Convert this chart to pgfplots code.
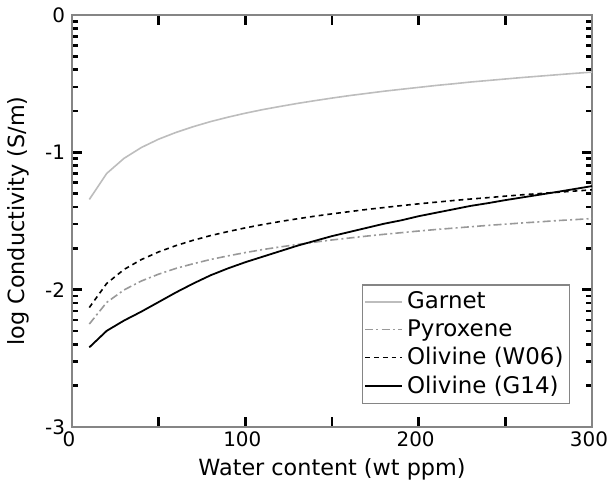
\documentclass[border=0pt]{standalone}
\usepackage{fontspec}
\setmainfont{DejaVu Sans}
\usepackage{pgfplots}
\pgfplotsset{compat=1.18}
\usepackage{pgfplotstable}

% x = water content (wt ppm), y = log10 conductivity (S/m)
\pgfplotstableread{
x    garnet  pyrox   w06     g14
10   -1.343  -2.250  -2.130  -2.420
20   -1.154  -2.093  -1.955  -2.300
30   -1.044  -2.002  -1.853  -2.225
40   -0.965  -1.937  -1.781  -2.160
50   -0.904  -1.887  -1.725  -2.090
60   -0.855  -1.845  -1.679  -2.020
70   -0.813  -1.811  -1.640  -1.955
80   -0.776  -1.780  -1.606  -1.895
90   -0.744  -1.754  -1.577  -1.845
100  -0.715  -1.730  -1.550  -1.800
110  -0.689  -1.708  -1.526  -1.760
120  -0.666  -1.689  -1.504  -1.720
130  -0.644  -1.671  -1.484  -1.680
140  -0.624  -1.654  -1.465  -1.645
150  -0.605  -1.638  -1.448  -1.610
160  -0.587  -1.624  -1.432  -1.580
170  -0.571  -1.610  -1.416  -1.550
180  -0.555  -1.597  -1.402  -1.520
190  -0.541  -1.585  -1.388  -1.495
200  -0.527  -1.573  -1.375  -1.465
210  -0.513  -1.562  -1.363  -1.440
220  -0.501  -1.552  -1.351  -1.415
230  -0.488  -1.542  -1.340  -1.390
240  -0.477  -1.532  -1.330  -1.370
250  -0.466  -1.523  -1.319  -1.348
260  -0.455  -1.514  -1.309  -1.328
270  -0.445  -1.506  -1.300  -1.308
280  -0.435  -1.497  -1.291  -1.288
290  -0.425  -1.490  -1.282  -1.267
300  -0.416  -1.482  -1.273  -1.246
}\conddata

\definecolor{garnetgray}{HTML}{BDBDBD}
\definecolor{pyrgray}{HTML}{999999}
\definecolor{framegray}{HTML}{858585}

\begin{document}
\begin{tikzpicture}
\begin{axis}[
  scale only axis,
  width=260bp, height=206bp,
  xmin=0, xmax=300, ymin=-3, ymax=0,
  font=\fontsize{10}{12}\selectfont,
  xtick={0,50,...,300},
  xticklabels={0,,100,,200,,300},
  ytick={-3,-2,-1,0},
  yticklabels={-3,-2,-1,0},
  minor ytick={-2.69897,-2.52288,-2.39794,-2.30103,-2.22185,-2.15490,-2.09691,-2.04576,
               -1.69897,-1.52288,-1.39794,-1.30103,-1.22185,-1.15490,-1.09691,-1.04576,
               -0.69897,-0.52288,-0.39794,-0.30103,-0.22185,-0.15490,-0.09691,-0.04576},
  tick align=inside,
  major tick length=5bp,
  minor tick length=2.8bp,
  tick style={black, line width=1.3bp},
  minor tick style={black, line width=1.3bp},
  axis line style={framegray, line width=1bp},
  xticklabel style={yshift=1bp, xshift=-1.5bp},
  yticklabel style={xshift=0bp},
  xlabel={Water content (wt ppm)},
  ylabel={log Conductivity (S/m)},
  every axis x label/.style={at={(axis description cs:0.5,-0.104)}, anchor=center,
    font=\fontsize{11.2}{13}\selectfont},
  every axis y label/.style={at={(axis description cs:-0.104,0.5)}, anchor=center, rotate=90,
    font=\fontsize{11.2}{13}\selectfont},
  legend style={at={(axis description cs:0.958,0.056)}, anchor=south east,
    draw=framegray, line width=0.7bp, fill=white, font=\fontsize{11.5}{12.5}\selectfont,
    inner xsep=1bp, inner ysep=1.5bp, row sep=0pt},
  legend cell align=left,
  legend image code/.code={\draw[#1] (0bp,0bp) -- (18.5bp,0bp);},
  clip=false,
]
\addplot[garnetgray, line width=0.8bp] table[x=x, y=garnet] {\conddata};
\addlegendentry{Garnet}
\addplot[pyrgray, line width=0.8bp, dash pattern=on 4bp off 1.6bp on 1bp off 1.6bp] table[x=x, y=pyrox] {\conddata};
\addlegendentry{Pyroxene}
\addplot[black, line width=0.8bp, dash pattern=on 2.4bp off 2bp] table[x=x, y=w06] {\conddata};
\addlegendentry{Olivine (W06)}
\addplot[black, line width=0.9bp] table[x=x, y=g14] {\conddata};
\addlegendentry{Olivine (G14)}
\end{axis}
\pgfresetboundingbox
\path (-36bp,-31bp) rectangle (269bp,213.5bp);
\end{tikzpicture}
\end{document}
